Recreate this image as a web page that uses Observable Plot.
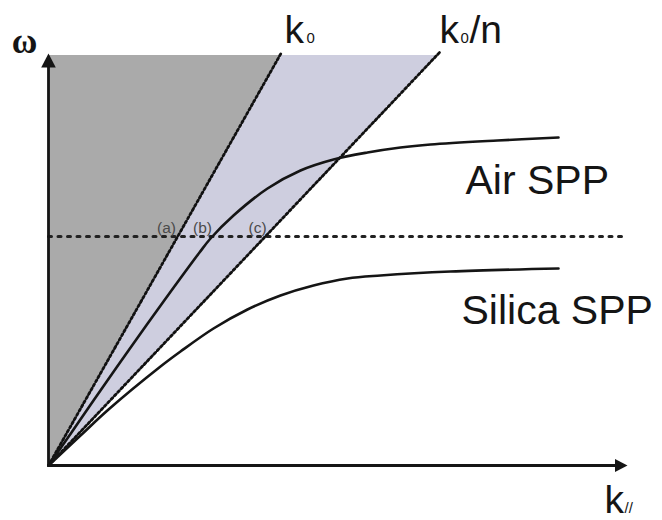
<!DOCTYPE html>
<html><head><meta charset="utf-8">
<script src="https://cdn.jsdelivr.net/npm/d3@7"></script>
<script src="https://cdn.jsdelivr.net/npm/@observablehq/plot@0.6"></script>
<style>body{margin:0;background:#fff}</style>
</head><body><div id="chart"></div>
<script>
// Dispersion diagram: in-plane wavevector k (x) vs frequency ω (y), arbitrary units
const airK    = [0, 0.23, 0.45, 0.80, 1.15, 1.51, 1.62, 1.85, 2.19, 2.52, 2.85, 3.19, 3.52, 3.82, 4.49, 5.10];
const airW    = [0, 0.33, 0.65, 1.15, 1.64, 2.13, 2.27, 2.50, 2.77, 2.95, 3.06, 3.13, 3.18, 3.21, 3.25, 3.28];
const silicaK = [0, 0.32, 0.60, 1.12, 1.32, 1.65, 1.99, 2.32, 2.65, 2.99, 3.32, 4.02, 5.10];
const silicaW = [0, 0.30, 0.56, 0.99, 1.14, 1.37, 1.56, 1.70, 1.80, 1.87, 1.90, 1.94, 1.97];

// light lines k0 (air) and k0/n (silica)
const k0LineK = [0, 2.33];
const k0LineW = [0, 4.13];
const knLineK = [0, 3.91];
const knLineW = [0, 4.13];

// shaded light cones
const coneW  = [0, 4.10];
const coneK0 = [0, 2.31];
const coneKn = [0, 3.88];

// horizontal reference frequency
const refK = [0, 5.79];
const refW = [2.29, 2.29];

// axes extents
const axisTopW = 4.12;
const axisEndK = 5.79;

// labels
const pointLabels = ["(a)", "(b)", "(c)"];
const pointLabelK = [1.18, 1.54, 2.09];
const pointLabelW = [2.33, 2.33, 2.33];

const curveLabels = ["Air SPP", "Silica SPP"];
const curveLabelK = [4.17, 4.13];
const curveLabelW = [2.72, 1.42];

const bigLabels = ["k", "k", "/n", "k"];
const bigLabelK = [2.36, 3.91, 4.21, 5.56];
const bigLabelW = [4.23, 4.23, 4.23, -0.47];

const subLabels = ["0", "0", "//"];
const subLabelK = [2.58, 4.12, 5.76];
const subLabelW = [4.23, 4.23, -0.47];

const omegaLabel = ["ω"];
const omegaK = [-0.24];
const omegaW = [4.13];

// ---- build tables ----
const zip = (ks, ws) => ks.map((k, i) => ({k, w: ws[i]}));
const air = zip(airK, airW);
const silica = zip(silicaK, silicaW);
const k0Line = zip(k0LineK, k0LineW);
const knLine = zip(knLineK, knLineW);
const refLine = zip(refK, refW);
const grayCone = coneW.map((w, i) => ({w, a: 0, b: coneK0[i]}));
const blueCone = coneW.map((w, i) => ({w, a: coneK0[i], b: coneKn[i]}));
const yAxis = [{k: 0, w: 0}, {k: 0, w: axisTopW - 0.08}];
const xAxis = [{k: 0, w: 0}, {k: axisEndK - 0.08, w: 0}];
const lab = (ts, ks, ws) => ts.map((t, i) => ({t, k: ks[i], w: ws[i]}));

const arrowUp = {draw(ctx, size) {
  const r = Math.sqrt(size / Math.PI);
  ctx.moveTo(0, 0); ctx.lineTo(-r * 1.35, r * 2.6); ctx.lineTo(r * 1.35, r * 2.6); ctx.closePath();
}};
const arrowRight = {draw(ctx, size) {
  const r = Math.sqrt(size / Math.PI);
  ctx.moveTo(0, 0); ctx.lineTo(-r * 2.4, -r * 1.25); ctx.lineTo(-r * 2.4, r * 1.25); ctx.closePath();
}};

const sans = "'Liberation Sans', Arial, Helvetica, sans-serif";
const ink = "#151515";

const chart = Plot.plot({
  width: 662,
  height: 520,
  marginLeft: 48,
  marginRight: 35,
  marginTop: 53,
  marginBottom: 55,
  x: {domain: [0, 5.79], axis: null},
  y: {domain: [0, 4.12], axis: null},
  style: {background: "#fff", fontFamily: sans, overflow: "visible"},
  marks: [
    Plot.areaX(grayCone, {y: "w", x1: "a", x2: "b", fill: "#aaaaaa"}),
    Plot.areaX(blueCone, {y: "w", x1: "a", x2: "b", fill: "#cecedf"}),
    Plot.line(refLine, {x: "k", y: "w", stroke: "#222", strokeWidth: 3, strokeDasharray: "3,6.5"}),
    Plot.line(k0Line, {x: "k", y: "w", stroke: "#111", strokeWidth: 2.8, strokeDasharray: "2.2,2.6"}),
    Plot.line(knLine, {x: "k", y: "w", stroke: "#111", strokeWidth: 2.8, strokeDasharray: "2.2,2.6"}),
    Plot.line(air, {x: "k", y: "w", curve: "catmull-rom", stroke: ink, strokeWidth: 2.6}),
    Plot.line(silica, {x: "k", y: "w", curve: "catmull-rom", stroke: ink, strokeWidth: 2.6}),
    Plot.line(yAxis, {x: "k", y: "w", stroke: ink, strokeWidth: 2.8}),
    Plot.line(xAxis, {x: "k", y: "w", stroke: ink, strokeWidth: 2.8}),
    Plot.dot([{k: 0, w: axisTopW}], {x: "k", y: "w", symbol: arrowUp, r: 5.4, fill: ink, stroke: "none"}),
    Plot.dot([{k: axisEndK, w: 0}], {x: "k", y: "w", symbol: arrowRight, r: 5.2, fill: ink, stroke: "none"}),
    Plot.text(lab(pointLabels, pointLabelK, pointLabelW), {x: "k", y: "w", text: "t", textAnchor: "middle", lineAnchor: "bottom", fontSize: 15.5, fill: "#4a4a4a"}),
    Plot.text(lab(curveLabels, curveLabelK, curveLabelW), {x: "k", y: "w", text: "t", textAnchor: "start", lineAnchor: "bottom", fontSize: 41, fill: ink}),
    Plot.text(lab(bigLabels, bigLabelK, bigLabelW), {x: "k", y: "w", text: "t", textAnchor: "start", lineAnchor: "bottom", fontSize: 39, fill: ink}),
    Plot.text(lab(subLabels, subLabelK, subLabelW), {x: "k", y: "w", text: "t", textAnchor: "start", lineAnchor: "bottom", fontSize: 15, fill: ink}),
    Plot.text(lab(omegaLabel, omegaK, omegaW), {x: "k", y: "w", text: "t", textAnchor: "middle", lineAnchor: "bottom", fontSize: 35, fontWeight: "bold", fontFamily: "'Liberation Serif', 'Times New Roman', serif", fill: ink})
  ]
});
document.getElementById("chart").appendChild(chart);
</script>
</body></html>
